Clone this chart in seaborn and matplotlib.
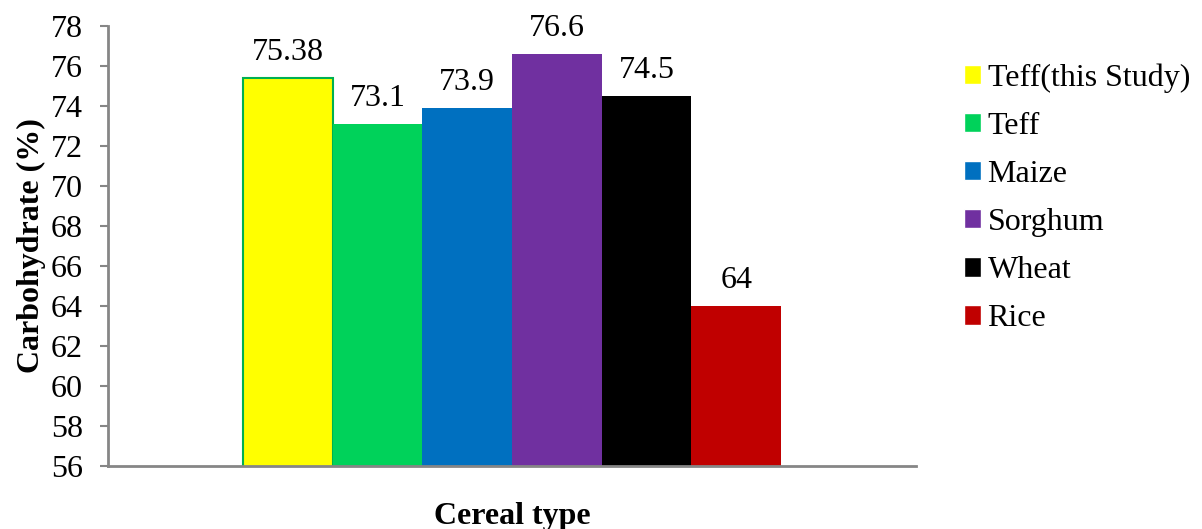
import pandas as pd
import numpy as np
import matplotlib
matplotlib.use("Agg")
import matplotlib.pyplot as plt
import seaborn as sns

# data
cereals = ["Teff(this Study)", "Teff", "Maize", "Sorghum", "Wheat", "Rice"]
carbs = [75.38, 73.1, 73.9, 76.6, 74.5, 64]
bar_labels = ["75.38", "73.1", "73.9", "76.6", "74.5", "64"]
colors = ["#FFFF00", "#00D25A", "#0070C0", "#7030A0", "#000000", "#C00000"]
yticks = list(range(56, 79, 2))

df = pd.DataFrame({"group": [""] * len(cereals), "cereal": cereals, "carb": carbs})

sns.set_style("white")
plt.rcParams["font.family"] = ["Liberation Serif", "DejaVu Serif"]
plt.rcParams["text.color"] = "black"
plt.rcParams["axes.labelcolor"] = "black"
plt.rcParams["ytick.labelcolor"] = "black"

fig = plt.figure(figsize=(12.02, 5.29), dpi=100)
ax = fig.add_axes([0.0899, 0.119, 0.6722, 0.832])

sns.barplot(data=df, x="group", y="carb", hue="cereal", hue_order=cereals,
            palette=dict(zip(cereals, colors)), width=0.666, dodge=True,
            saturation=1, ax=ax, legend=True)

# yellow bar has a thin green outline
for cont in ax.containers:
    for p in cont.patches:
        p.set_linewidth(0)
ax.containers[0].patches[0].set_edgecolor("#00B050")
ax.containers[0].patches[0].set_linewidth(1.5)

for cont, lab in zip(ax.containers, bar_labels):
    ax.bar_label(cont, labels=[lab], padding=8, fontsize=23, color="black")

ax.set_ylim(56, 78)
ax.set_yticks(yticks)
ax.set_xlim(-0.5, 0.5)
ax.set_xticks([])
ax.tick_params(axis="y", labelsize=23, length=6, width=1.5, color="#868686",
               labelcolor="black", left=True, pad=12)
for side in ["top", "right"]:
    ax.spines[side].set_visible(False)
for side in ["left", "bottom"]:
    ax.spines[side].set_color("#868686")
    ax.spines[side].set_linewidth(2)

ax.set_xlabel("Cereal type", fontsize=23, fontweight="bold", labelpad=26, color="black")
ax.set_ylabel("Carbohydrate (%)", fontsize=23, fontweight="bold", labelpad=4, color="black")

handles, labels = ax.get_legend_handles_labels()
leg = ax.legend(handles, labels, loc="upper left", bbox_to_anchor=(0.791, 0.905),
                bbox_transform=fig.transFigure, frameon=False, fontsize=23,
                handlelength=0.55, handleheight=0.55, handletextpad=0.2,
                labelspacing=0.6, borderaxespad=0)
for t in leg.get_texts():
    t.set_color("black")

fig.savefig("out.png", dpi=100)
